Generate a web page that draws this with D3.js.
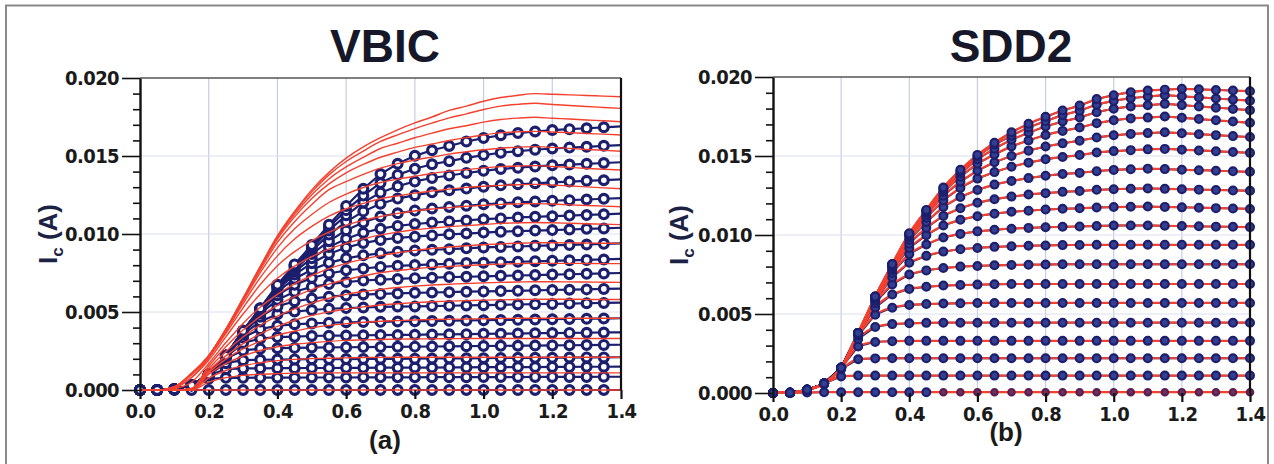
<!DOCTYPE html>
<html lang="en">
<head>
<meta charset="UTF-8" />
<title>VBIC vs SDD2 output characteristics</title>
<style>
  html, body { margin: 0; background: #fff; }
  svg { display: block; font-family: 'Liberation Sans', Arial, sans-serif; }
  .axis text {
    font-family: 'Liberation Sans Narrow', 'DejaVu Sans Condensed', sans-serif;
    font-weight: bold;
    font-size: 20px;
    letter-spacing: -0.6px;
    fill: #1a1a1a;
  }
</style>
</head>
<body>
<div id="chart"></div>
<script src="https://cdnjs.cloudflare.com/ajax/libs/d3/7.8.5/d3.min.js"></script>
<script>
// collector-emitter voltage (V), shared by every curve
const vce = [0, 0.05, 0.1, 0.15, 0.2, 0.25, 0.3, 0.35, 0.4, 0.45, 0.5, 0.55, 0.6, 0.65, 0.7,
  0.75, 0.8, 0.85, 0.9, 0.95, 1.0, 1.05, 1.1, 1.15, 1.2, 1.25, 1.3, 1.35, 1.4];

const xTicks = [0, 0.2, 0.4, 0.6, 0.8, 1.0, 1.2, 1.4];
const xTickLabels = ["0.0", "0.2", "0.4", "0.6", "0.8", "1.0", "1.2", "1.4"];
// collector current, mA
const yTicks = [0, 5, 10, 15, 20];
const yTickLabels = ["0.000", "0.005", "0.010", "0.015", "0.020"];
const yMinorTicks = [1, 2, 3, 4, 6, 7, 8, 9, 11, 12, 13, 14, 16, 17, 18, 19];

// (a) VBIC model curves, mA
const vbicModel = [
  [0,0,0,0,0,0,0,0,0,0,0,0,0,0,0,0,0,0,0,0,0,0,0,0,0,0,0,0,0],
  [0,0,0,0,0.5,0.79,0.94,1.01,1.05,1.08,1.09,1.1,1.1,1.1,1.1,1.1,1.1,1.1,1.1,1.1,1.1,1.1,1.1,1.1,1.1,1.1,1.1,1.1,1.1],
  [0,0,0,0,0.76,1.25,1.56,1.75,1.88,1.96,2.01,2.04,2.06,2.08,2.09,2.1,2.1,2.1,2.1,2.1,2.1,2.1,2.1,2.1,2.1,2.1,2.1,2.1,2.1],
  [0,0,0,0,1.0,1.69,2.18,2.53,2.77,2.93,3.04,3.12,3.18,3.21,3.24,3.26,3.27,3.28,3.29,3.3,3.3,3.3,3.3,3.3,3.3,3.3,3.3,3.3,3.3],
  [0,0,0,0,1.13,1.98,2.63,3.12,3.51,3.78,3.98,4.14,4.25,4.34,4.41,4.45,4.49,4.52,4.54,4.55,4.57,4.58,4.6,4.6,4.6,4.6,4.6,4.6,4.6],
  [0,0,0,0,1.23,2.19,2.97,3.6,4.08,4.47,4.78,5.01,5.19,5.33,5.45,5.53,5.6,5.66,5.7,5.73,5.76,5.78,5.8,5.81,5.82,5.82,5.81,5.8,5.8],
  [0,0,0,0.1,1.38,2.47,3.4,4.15,4.74,5.2,5.57,5.88,6.13,6.31,6.45,6.57,6.66,6.73,6.78,6.83,6.87,6.9,6.92,6.94,6.94,6.93,6.92,6.91,6.9],
  [0,0,0,0.1,1.54,2.77,3.84,4.72,5.43,5.99,6.44,6.79,7.08,7.32,7.52,7.66,7.77,7.86,7.92,7.98,8.03,8.07,8.1,8.12,8.12,8.12,8.11,8.1,8.1],
  [0,0,0.1,0.5,1.7,3.04,4.27,5.31,6.13,6.8,7.34,7.78,8.12,8.39,8.61,8.8,8.95,9.07,9.17,9.25,9.31,9.37,9.41,9.43,9.44,9.43,9.42,9.41,9.4],
  [0,0,0.15,0.8,1.92,3.41,4.87,6.14,7.16,7.94,8.55,9.03,9.4,9.69,9.94,10.12,10.27,10.38,10.47,10.54,10.61,10.68,10.72,10.74,10.72,10.69,10.66,10.63,10.6],
  [0,0,0.15,0.8,2.05,3.63,5.27,6.76,7.97,8.87,9.58,10.12,10.55,10.87,11.12,11.32,11.47,11.6,11.69,11.78,11.84,11.9,11.93,11.95,11.92,11.87,11.83,11.79,11.75],
  [0,0,0.2,1.0,2.12,3.75,5.53,7.2,8.6,9.68,10.49,11.14,11.62,11.96,12.26,12.44,12.62,12.76,12.88,12.99,13.06,13.12,13.16,13.18,13.14,13.08,13.02,12.96,12.9],
  [0,0,0.2,1.0,2.16,3.83,5.69,7.52,9.11,10.33,11.25,12.02,12.56,12.98,13.3,13.52,13.7,13.88,14.03,14.13,14.24,14.32,14.36,14.38,14.33,14.27,14.2,14.15,14.1],
  [0,0,0.2,1.0,2.18,3.86,5.79,7.7,9.46,10.79,11.89,12.84,13.36,13.82,14.22,14.51,14.74,14.93,15.12,15.27,15.4,15.5,15.57,15.6,15.55,15.49,15.42,15.36,15.3],
  [0,0,0.2,1.0,2.19,3.88,5.84,7.82,9.67,11.1,12.27,13.21,13.92,14.46,14.92,15.25,15.55,15.77,15.99,16.18,16.35,16.48,16.55,16.58,16.54,16.49,16.44,16.4,16.35],
  [0,0,0.2,1.05,2.2,3.89,5.86,7.86,9.77,11.26,12.51,13.53,14.3,14.91,15.48,15.82,16.17,16.47,16.75,16.94,17.17,17.34,17.43,17.48,17.42,17.37,17.31,17.26,17.2],
  [0,0,0.2,1.07,2.2,3.89,5.87,7.9,9.84,11.39,12.7,13.79,14.65,15.31,15.93,16.36,16.76,17.11,17.44,17.7,17.98,18.2,18.31,18.38,18.3,18.24,18.17,18.11,18.05],
  [0,0,0.2,1.07,2.2,3.9,5.88,7.92,9.88,11.45,12.83,13.95,14.86,15.58,16.17,16.68,17.12,17.5,17.92,18.2,18.51,18.75,18.89,19.0,18.96,18.92,18.88,18.84,18.8]
];

// (a) measured curves, mA
const vbicMeasured = [
  [0,0,0,0,0,0,0,0,0,0,0,0,0,0,0,0,0,0,0,0,0,0,0,0,0,0,0,0,0],
  [0,0,0.05,0.3,0.72,0.78,0.78,0.79,0.79,0.79,0.8,0.8,0.8,0.81,0.81,0.81,0.81,0.82,0.82,0.82,0.83,0.83,0.83,0.84,0.84,0.84,0.84,0.85,0.85],
  [0,0,0.05,0.3,0.94,1.33,1.38,1.39,1.4,1.4,1.41,1.41,1.42,1.42,1.43,1.43,1.44,1.44,1.45,1.45,1.46,1.46,1.47,1.47,1.48,1.48,1.49,1.49,1.5],
  [0,0,0.05,0.3,0.98,1.72,1.91,1.94,1.95,1.96,1.97,1.98,1.98,1.99,2.0,2.0,2.01,2.02,2.03,2.03,2.04,2.05,2.06,2.06,2.07,2.08,2.09,2.09,2.1],
  [0,0,0.05,0.3,0.99,2.0,2.54,2.65,2.68,2.7,2.72,2.73,2.74,2.75,2.76,2.77,2.78,2.79,2.8,2.81,2.82,2.83,2.84,2.85,2.86,2.87,2.88,2.89,2.9],
  [0,0,0.05,0.3,1.0,2.11,3.02,3.29,3.39,3.42,3.46,3.48,3.49,3.51,3.52,3.53,3.54,3.56,3.57,3.58,3.6,3.61,3.62,3.64,3.65,3.66,3.67,3.69,3.7],
  [0,0,0.05,0.3,1.0,2.16,3.36,3.9,4.12,4.21,4.27,4.31,4.34,4.36,4.37,4.39,4.41,4.42,4.44,4.46,4.47,4.49,4.5,4.52,4.54,4.55,4.57,4.58,4.6],
  [0,0,0.05,0.3,1.0,2.18,3.56,4.39,4.85,5.03,5.13,5.21,5.25,5.29,5.33,5.35,5.36,5.38,5.4,5.42,5.44,5.46,5.48,5.5,5.52,5.54,5.56,5.58,5.6],
  [0,0,0.05,0.3,1.0,2.19,3.66,4.69,5.36,5.69,5.86,5.98,6.06,6.12,6.16,6.19,6.23,6.25,6.27,6.3,6.32,6.34,6.36,6.39,6.41,6.43,6.45,6.48,6.5],
  [0,0,0.05,0.3,1.0,2.19,3.72,4.9,5.78,6.3,6.61,6.79,6.92,7.02,7.07,7.12,7.17,7.2,7.24,7.26,7.29,7.32,7.34,7.37,7.4,7.42,7.45,7.47,7.5],
  [0,0,0.05,0.3,1.0,2.2,3.75,5.01,6.08,6.74,7.18,7.47,7.67,7.79,7.89,7.96,8.01,8.05,8.09,8.14,8.16,8.19,8.22,8.25,8.28,8.31,8.34,8.37,8.4],
  [0,0,0.05,0.3,1.0,2.2,3.77,5.09,6.3,7.13,7.71,8.15,8.44,8.63,8.76,8.86,8.94,8.99,9.03,9.08,9.14,9.17,9.2,9.24,9.27,9.3,9.33,9.37,9.4],
  [0,0,0.05,0.3,1.0,2.2,3.78,5.13,6.44,7.4,8.13,8.72,9.13,9.42,9.62,9.75,9.83,9.91,9.98,10.03,10.09,10.15,10.18,10.22,10.25,10.29,10.33,10.36,10.4],
  [0,0,0.05,0.3,1.0,2.2,3.79,5.17,6.53,7.59,8.44,9.16,9.7,10.08,10.34,10.52,10.64,10.73,10.8,10.87,10.95,11.0,11.06,11.1,11.14,11.18,11.22,11.26,11.3],
  [0,0,0.05,0.3,1.0,2.2,3.79,5.19,6.6,7.74,8.71,9.54,10.24,10.74,11.12,11.33,11.5,11.63,11.73,11.81,11.9,11.96,12.03,12.08,12.13,12.17,12.21,12.26,12.3],
  [0,0,0.05,0.3,1.0,2.2,3.8,5.21,6.66,7.86,8.93,9.96,10.78,11.45,11.94,12.27,12.49,12.67,12.8,12.91,13.03,13.12,13.19,13.25,13.31,13.36,13.41,13.45,13.5],
  [0,0,0.05,0.3,1.0,2.2,3.8,5.22,6.7,7.95,9.09,10.23,11.2,12.02,12.65,13.06,13.37,13.59,13.75,13.91,14.05,14.17,14.25,14.33,14.4,14.45,14.5,14.55,14.6],
  [0,0,0.05,0.3,1.0,2.2,3.8,5.23,6.72,8.01,9.21,10.43,11.53,12.46,13.27,13.79,14.18,14.47,14.67,14.88,15.06,15.21,15.31,15.4,15.48,15.54,15.59,15.65,15.7],
  [0,0,0.05,0.3,1.0,2.2,3.8,5.24,6.74,8.05,9.29,10.6,11.8,12.9,13.84,14.5,15.01,15.37,15.64,15.93,16.15,16.33,16.47,16.57,16.66,16.72,16.78,16.84,16.9]
];

// (b) measured curves, mA (the SDD2 fit lies on top of them)
const sdd2Measured = [
  [0,0.02,0.03,0.05,0.05,0.05,0.05,0.05,0.05,0.05,0.05,0.05,0.05,0.05,0.05,0.05,0.05,0.05,0.05,0.05,0.05,0.05,0.05,0.05,0.05,0.05,0.05,0.05,0.05],
  [0,0.02,0.2,0.59,1.05,1.1,1.1,1.1,1.1,1.1,1.1,1.1,1.1,1.1,1.1,1.1,1.1,1.1,1.1,1.1,1.1,1.1,1.1,1.1,1.1,1.1,1.1,1.1,1.1],
  [0,0.02,0.2,0.6,1.5,2.14,2.19,2.2,2.2,2.2,2.2,2.2,2.2,2.2,2.2,2.2,2.2,2.2,2.2,2.2,2.2,2.2,2.2,2.2,2.2,2.2,2.2,2.2,2.2],
  [0,0.02,0.2,0.6,1.58,2.95,3.23,3.28,3.3,3.3,3.3,3.3,3.3,3.3,3.3,3.3,3.3,3.3,3.3,3.3,3.3,3.3,3.3,3.3,3.3,3.3,3.3,3.3,3.3],
  [0,0.02,0.2,0.6,1.6,3.41,4.18,4.36,4.41,4.44,4.45,4.45,4.45,4.45,4.45,4.45,4.45,4.45,4.45,4.45,4.45,4.45,4.45,4.45,4.45,4.45,4.45,4.45,4.45],
  [0,0.02,0.2,0.6,1.6,3.63,4.95,5.4,5.57,5.63,5.66,5.68,5.7,5.7,5.7,5.7,5.7,5.7,5.7,5.7,5.7,5.7,5.7,5.7,5.7,5.7,5.7,5.7,5.7],
  [0,0.02,0.2,0.6,1.6,3.71,5.41,6.23,6.59,6.72,6.8,6.83,6.86,6.88,6.9,6.9,6.9,6.9,6.9,6.9,6.9,6.9,6.9,6.9,6.9,6.9,6.9,6.9,6.9],
  [0,0.02,0.2,0.6,1.6,3.75,5.7,6.87,7.5,7.76,7.91,8.0,8.04,8.08,8.1,8.12,8.13,8.15,8.15,8.15,8.15,8.15,8.15,8.15,8.15,8.15,8.15,8.15,8.15],
  [0,0.02,0.2,0.6,1.6,3.77,5.86,7.31,8.24,8.68,8.95,9.1,9.18,9.25,9.29,9.32,9.34,9.36,9.37,9.38,9.38,9.38,9.38,9.38,9.38,9.38,9.38,9.38,9.38],
  [0,0.02,0.2,0.6,1.6,3.79,5.94,7.6,8.79,9.4,9.84,10.07,10.23,10.33,10.4,10.45,10.49,10.52,10.54,10.57,10.6,10.6,10.6,10.58,10.57,10.55,10.53,10.52,10.5],
  [0,0.02,0.2,0.6,1.6,3.8,5.98,7.79,9.18,9.99,10.6,10.96,11.19,11.35,11.47,11.54,11.61,11.66,11.69,11.74,11.77,11.79,11.8,11.78,11.75,11.73,11.7,11.68,11.65],
  [0,0.02,0.2,0.6,1.6,3.8,6.02,7.9,9.45,10.44,11.21,11.69,12.04,12.26,12.43,12.56,12.65,12.73,12.78,12.86,12.9,12.93,12.95,12.92,12.9,12.87,12.85,12.82,12.8],
  [0,0.02,0.2,0.6,1.6,3.8,6.07,7.98,9.68,10.82,11.77,12.4,12.85,13.19,13.42,13.6,13.75,13.86,13.93,14.04,14.12,14.16,14.2,14.17,14.13,14.1,14.07,14.03,14.0],
  [0,0.02,0.2,0.6,1.6,3.8,6.07,8.06,9.84,11.09,12.19,12.98,13.57,13.98,14.32,14.58,14.79,14.94,15.06,15.22,15.31,15.37,15.42,15.45,15.4,15.35,15.3,15.25,15.2],
  [0,0.02,0.2,0.6,1.6,3.8,6.08,8.09,9.95,11.27,12.49,13.37,14.07,14.6,15.0,15.34,15.6,15.8,15.97,16.17,16.31,16.4,16.45,16.5,16.44,16.38,16.32,16.26,16.2],
  [0,0.02,0.2,0.6,1.6,3.8,6.09,8.12,10.03,11.41,12.72,13.69,14.51,15.1,15.61,15.98,16.33,16.59,16.8,17.08,17.26,17.38,17.43,17.5,17.42,17.34,17.26,17.18,17.1],
  [0,0.02,0.2,0.6,1.6,3.8,6.09,8.14,10.07,11.5,12.85,13.9,14.79,15.46,16.03,16.47,16.87,17.18,17.44,17.77,17.99,18.14,18.21,18.3,18.22,18.14,18.06,17.98,17.9],
  [0,0.02,0.2,0.6,1.6,3.8,6.1,8.15,10.09,11.55,12.97,14.04,14.97,15.72,16.29,16.81,17.21,17.59,17.87,18.25,18.49,18.66,18.76,18.85,18.78,18.71,18.64,18.57,18.5],
  [0,0.02,0.2,0.6,1.6,3.8,6.1,8.16,10.1,11.59,13.01,14.13,15.07,15.84,16.5,17.04,17.48,17.88,18.19,18.6,18.85,19.04,19.15,19.2,19.25,19.22,19.18,19.14,19.1]
];
const sdd2Model = sdd2Measured;

const W = 1274, H = 464;
const RED = "#f4412e", NAVY = "#1b1f6e";

const svg = d3.select("#chart").append("svg")
  .attr("width", W)
  .attr("height", H);

// scanned-figure frame
svg.append("path")
  .attr("d", `M6,470 V5.5 H1268 V470`)
  .attr("fill", "none")
  .attr("stroke", "#8a8a8a")
  .attr("stroke-width", 2);

const panels = [
  {
    title: "VBIC", tag: "(a)", model: vbicModel, meas: vbicMeasured,
    left: 140, right: 621, top: 78, bottom: 390,
    titleX: 385, tagX: 385, tagY: 449, labelX: 57,
    hollow: true, modelOnTop: true, lastMarker: false,
    markerR: 4.4, markerW: 3.2, measW: 2.2, modelW: 1.4
  },
  {
    title: "SDD2", tag: "(b)", model: sdd2Model, meas: sdd2Measured,
    left: 773, right: 1250, top: 77, bottom: 393,
    titleX: 1011, tagX: 1006, tagY: 441, labelX: 688,
    hollow: false, modelOnTop: false, lastMarker: true,
    markerR: 3.9, markerW: 2.2, measW: 1.8, modelW: 2.2
  }
];

panels.forEach(drawPanel);

function drawPanel(p) {
  const x = d3.scaleLinear().domain([0, 1.4]).range([p.left, p.right]);
  const y = d3.scaleLinear().domain([0, 20]).range([p.bottom, p.top]);
  const g = svg.append("g");

  // grid
  g.append("g").selectAll("line")
    .data(xTicks.slice(1, -1))
    .join("line")
    .attr("x1", d => x(d)).attr("x2", d => x(d))
    .attr("y1", p.top).attr("y2", p.bottom)
    .attr("stroke", "#c6cce6").attr("stroke-width", 1.2);
  g.append("g").selectAll("line")
    .data(yTicks.slice(1, -1))
    .join("line")
    .attr("x1", p.left).attr("x2", p.right)
    .attr("y1", d => y(d)).attr("y2", d => y(d))
    .attr("stroke", "#dde0ee").attr("stroke-width", 1);

  // top border
  g.append("line")
    .attr("x1", p.left).attr("x2", p.right)
    .attr("y1", p.top).attr("y2", p.top)
    .attr("stroke", "#555").attr("stroke-width", 1.5);

  const modelLine = d3.line()
    .x((d, i) => x(vce[i]))
    .y(d => y(d))
    .curve(d3.curveMonotoneX);
  const measLine = d3.line()
    .x((d, i) => x(vce[i]))
    .y(d => y(d));

  const drawModel = () => g.append("g")
    .selectAll("path")
    .data(p.model)
    .join("path")
    .attr("d", modelLine)
    .attr("fill", "none")
    .attr("stroke", RED)
    .attr("stroke-width", p.modelW);

  // measured curves
  g.append("g")
    .selectAll("path")
    .data(p.meas)
    .join("path")
    .attr("d", measLine)
    .attr("fill", "none")
    .attr("stroke", NAVY)
    .attr("stroke-width", p.measW);

  if (!p.modelOnTop) drawModel();

  const pts = [];
  p.meas.forEach((curve, ci) => curve.forEach((v, i) => {
    if (!p.lastMarker && i === vce.length - 1) return;
    pts.push({ v: vce[i], ic: v, ci });
  }));

  const offRow = d => !p.hollow && d.ci === 0 && d.v >= 0.5;
  g.append("g")
    .selectAll("circle")
    .data(pts)
    .join("circle")
    .attr("cx", d => x(d.v))
    .attr("cy", d => y(d.ic))
    .attr("r", d => offRow(d) ? 3.2 : p.markerR)
    .attr("fill", d => p.hollow ? "#fff" : (offRow(d) ? "#6e2f63" : "#34408f"))
    .attr("stroke", d => offRow(d) ? "#5a1f4e" : NAVY)
    .attr("stroke-width", p.markerW);

  if (p.modelOnTop) drawModel();

  // right border
  g.append("line")
    .attr("x1", p.right).attr("x2", p.right)
    .attr("y1", p.top).attr("y2", p.bottom)
    .attr("stroke", "#111").attr("stroke-width", 2.2);

  // y axis, major + minor ticks
  const yAxis = g.append("g")
    .attr("class", "axis")
    .attr("transform", `translate(${p.left},0)`)
    .call(d3.axisLeft(y)
      .tickValues(yTicks)
      .tickFormat((d, i) => yTickLabels[i])
      .tickSize(18)
      .tickPadding(3)
      .tickSizeOuter(0));
  yAxis.selectAll("line").attr("stroke", "#111").attr("stroke-width", 1.6);
  yAxis.select(".domain").attr("stroke", "#111").attr("stroke-width", 2.4);

  const yMinor = g.append("g")
    .attr("transform", `translate(${p.left},0)`)
    .call(d3.axisLeft(y).tickValues(yMinorTicks).tickFormat("").tickSize(7));
  yMinor.select(".domain").remove();
  yMinor.selectAll("line").attr("stroke", "#111").attr("stroke-width", 1.6);

  // x axis
  const xAxis = g.append("g")
    .attr("class", "axis")
    .attr("transform", `translate(0,${p.bottom})`)
    .call(d3.axisBottom(x)
      .tickValues(xTicks)
      .tickFormat((d, i) => xTickLabels[i])
      .tickSize(9)
      .tickPadding(5));
  xAxis.select(".domain").remove();
  xAxis.selectAll("line").attr("stroke", "#111").attr("stroke-width", 2.2);

  // title
  svg.append("text")
    .attr("x", p.titleX)
    .attr("y", 62)
    .attr("text-anchor", "middle")
    .attr("font-size", 46)
    .attr("font-weight", "bold")
    .attr("fill", "#16182a")
    .text(p.title);

  // y label I_c (A)
  const yl = svg.append("text")
    .attr("transform", `translate(${p.labelX},${(p.top + p.bottom) / 2}) rotate(-90)`)
    .attr("text-anchor", "middle")
    .attr("font-size", 26)
    .attr("font-weight", "bold")
    .attr("fill", "#1c2244");
  yl.append("tspan").text("I");
  yl.append("tspan").attr("font-size", 17).attr("dy", 6).text("c");
  yl.append("tspan").attr("dy", -6).text(" (A)");

  // panel tag
  svg.append("text")
    .attr("x", p.tagX)
    .attr("y", p.tagY)
    .attr("text-anchor", "middle")
    .attr("font-size", 26)
    .attr("font-weight", 600)
    .attr("fill", "#1a1a1a")
    .text(p.tag);
}
</script>
</body>
</html>
